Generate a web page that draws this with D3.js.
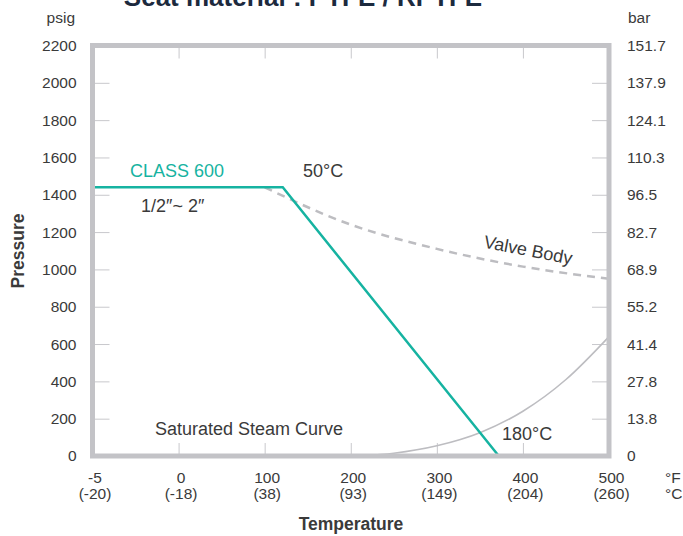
<!DOCTYPE html>
<html>
<head>
<meta charset="utf-8">
<script src="https://cdnjs.cloudflare.com/ajax/libs/d3/7.8.5/d3.min.js"></script>
<style>
  body { margin: 0; background: #fff; }
  svg { font-family: "Liberation Sans", Arial, Helvetica, sans-serif; }
  .tick line { stroke: #c8c8cc; }
  .tick text { fill: #3a3a3a; font-size: 15.5px; }
</style>
</head>
<body>
<svg id="chart" width="683" height="536"></svg>
<script>
// values
var tempF = [-5, 0, 100, 200, 300, 400, 500];
var tempFLabels = ["-5", "0", "100", "200", "300", "400", "500"];
var tempCLabels = ["(-20)", "(-18)", "(38)", "(93)", "(149)", "(204)", "(260)"];
var psigTicks = [0, 200, 400, 600, 800, 1000, 1200, 1400, 1600, 1800, 2000, 2200];
var barLabels = ["0", "13.8", "27.8", "41.4", "55.2", "68.9", "82.7", "96.5", "110.3", "124.1", "137.9", "151.7"];

// [°F, psig]
var class600 = [[-5, 1440], [121, 1440], [372, 0]];
var valveBody = [[100, 1440], [200, 1240], [300, 1110], [400, 1015], [500, 950]];
var steamCurve = [[212, 0], [250, 15], [300, 55], [350, 125], [400, 240], [450, 410], [500, 640]];

var svg = d3.select("#chart");
var plotLeft = 92.5, plotRight = 609, plotTop = 45.5, plotBottom = 456;
var teal = "#16b3a1", grey = "#c3c3c7", ink = "#3a3a3a";

// x is compressed between -5 and 0, same as the printed chart
var x = d3.scaleLinear().domain([-5, 0, 500])
  .range([plotLeft, plotLeft + (plotRight - plotLeft) / 6, plotRight]);
var y = d3.scaleLinear().domain([0, 2200]).range([plotBottom, plotTop]);

// inner ticks on all four sides
svg.append("g").attr("transform", "translate(" + plotLeft + ",0)")
  .call(d3.axisLeft(y).tickValues(psigTicks).tickSize(-17).tickPadding(16)
    .tickFormat(function(d) { return String(d); }))
  .call(function(g) { g.select(".domain").remove(); });

svg.append("g").attr("transform", "translate(" + plotRight + ",0)")
  .call(d3.axisRight(y).tickValues(psigTicks).tickSize(-17).tickPadding(18)
    .tickFormat(function(d, i) { return barLabels[i]; }))
  .call(function(g) { g.select(".domain").remove(); });

svg.append("g").attr("transform", "translate(0," + plotBottom + ")")
  .call(d3.axisBottom(x).tickValues(tempF).tickSize(-13).tickFormat(""))
  .call(function(g) { g.select(".domain").remove(); });

svg.append("g").attr("transform", "translate(0," + plotTop + ")")
  .call(d3.axisTop(x).tickValues(tempF).tickSize(-13).tickFormat(""))
  .call(function(g) { g.select(".domain").remove(); });

// x labels, °F and °C rows
var xl = svg.append("g").attr("fill", ink).attr("font-size", "15.5px").attr("text-anchor", "middle");
xl.selectAll(".f").data(tempF).enter().append("text")
  .attr("x", function(d) { return x(d) + 2.5; })
  .attr("y", 483)
  .text(function(d, i) { return tempFLabels[i]; });
xl.selectAll(".c").data(tempF).enter().append("text")
  .attr("x", function(d) { return x(d) + 2.5; })
  .attr("y", 499)
  .text(function(d, i) { return tempCLabels[i]; });
xl.append("text").attr("x", 665).attr("y", 483).attr("text-anchor", "start").text("°F");
xl.append("text").attr("x", 665).attr("y", 499).attr("text-anchor", "start").text("°C");

// unit labels
svg.append("text").attr("x", 75).attr("y", 23).attr("text-anchor", "end")
  .attr("fill", ink).attr("font-size", "15.5px").text("psig");
svg.append("text").attr("x", 628).attr("y", 23)
  .attr("fill", ink).attr("font-size", "15.5px").text("bar");

// curves
var line = d3.line().x(function(d) { return x(d[0]); }).y(function(d) { return y(d[1]); });
var smooth = d3.line().curve(d3.curveMonotoneX).x(function(d) { return x(d[0]); }).y(function(d) { return y(d[1]); });

svg.append("path").attr("d", smooth(steamCurve))
  .attr("fill", "none").attr("stroke", "#bdbdc1").attr("stroke-width", 1.6);

svg.append("path").attr("d", smooth(valveBody))
  .attr("fill", "none").attr("stroke", "#bdbdc1").attr("stroke-width", 2.5)
  .attr("stroke-dasharray", "8,6");

svg.append("path").attr("d", line(class600))
  .attr("fill", "none").attr("stroke", teal).attr("stroke-width", 2.5);

// frame
svg.append("rect").attr("x", plotLeft).attr("y", plotTop)
  .attr("width", plotRight - plotLeft).attr("height", plotBottom - plotTop)
  .attr("fill", "none").attr("stroke", grey).attr("stroke-width", 5);

// annotations
var ann = svg.append("g").attr("font-size", "18px").attr("fill", ink);
ann.append("text").attr("x", 130).attr("y", 177).attr("fill", teal).text("CLASS 600");
ann.append("text").attr("x", 141).attr("y", 212).text("1/2\u2033~ 2\u2033");
ann.append("text").attr("x", 303).attr("y", 177).text("50°C");
ann.append("text").attr("transform", "translate(527,256) rotate(11)")
  .attr("text-anchor", "middle").text("Valve Body");
ann.append("text").attr("x", 155).attr("y", 435).text("Saturated Steam Curve");
ann.append("text").attr("x", 502).attr("y", 440).text("180°C");

// axis titles
svg.append("text").attr("x", 351).attr("y", 530).attr("text-anchor", "middle")
  .attr("font-weight", "bold").attr("font-size", "17.5px").attr("fill", ink).text("Temperature");
svg.append("text").attr("transform", "translate(24,251) rotate(-90)").attr("text-anchor", "middle")
  .attr("font-weight", "bold").attr("font-size", "17.5px").attr("fill", ink).text("Pressure");

// chart title, clipped by the top of the picture
svg.append("text").attr("x", 303).attr("y", 6).attr("text-anchor", "middle")
  .attr("font-weight", "bold").attr("font-size", "26px").attr("fill", "#1c2a3e")
  .text("Seat material : PTFE / RPTFE");
</script>
</body>
</html>
